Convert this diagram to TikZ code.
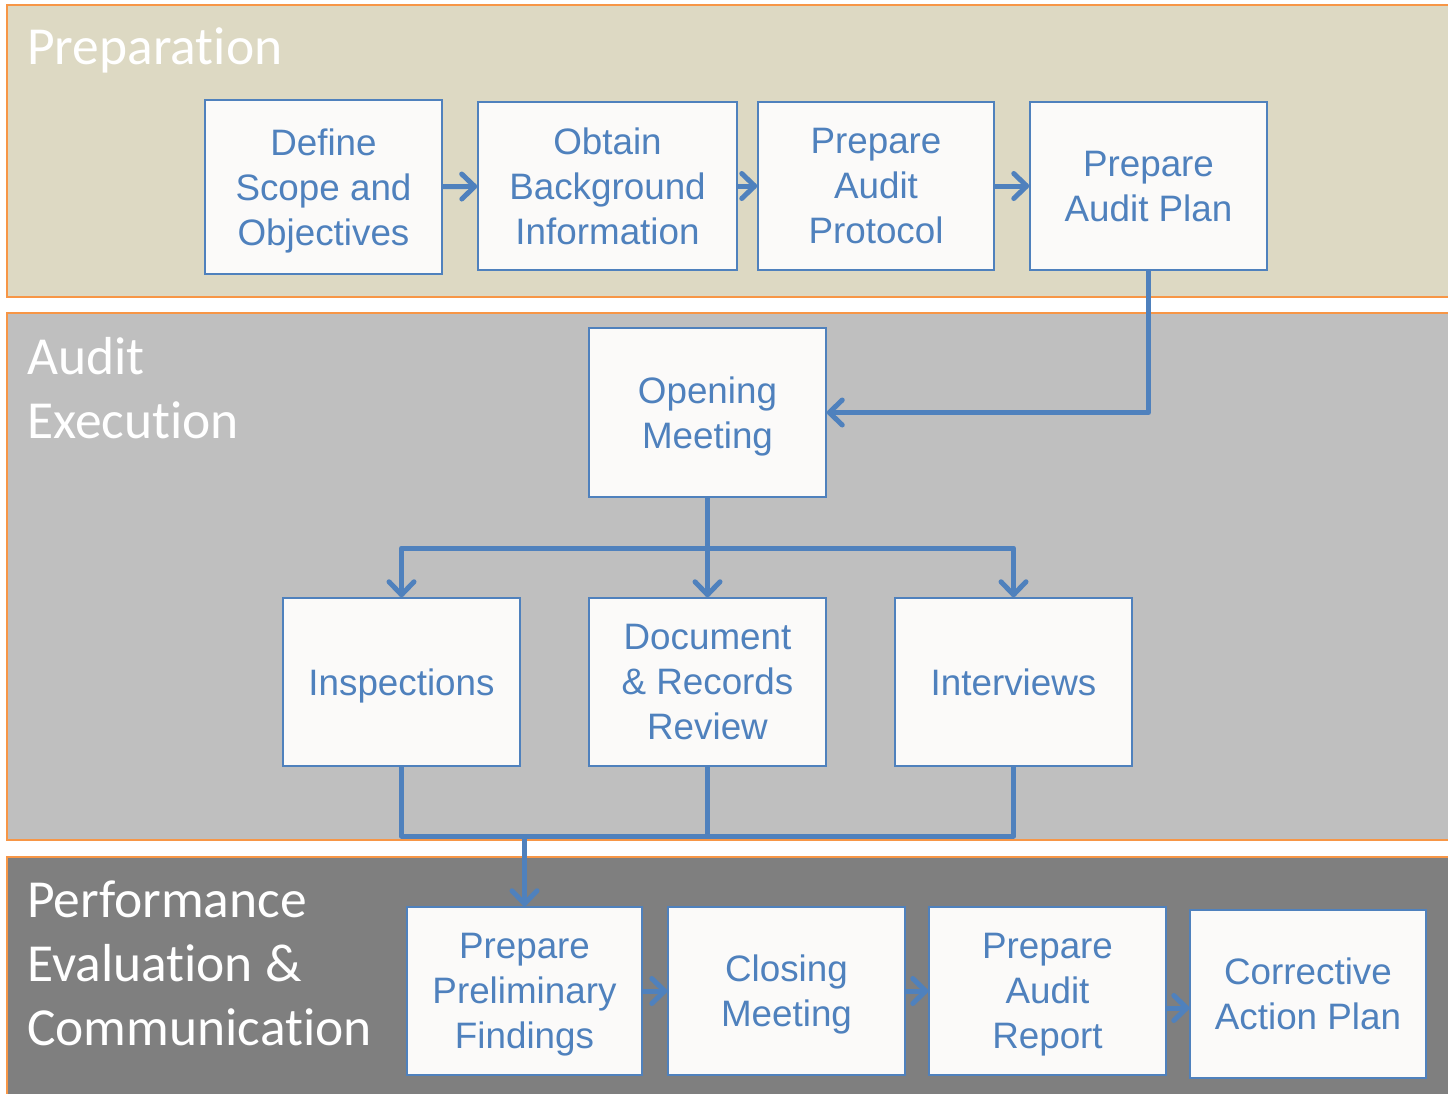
\documentclass[tikz,border=0pt]{standalone}
\usepackage{fontspec}
\setmainfont{Liberation Sans}
\newfontfamily\bandfont[Ligatures=NoCommon]{Carlito}
\usetikzlibrary{arrows.meta}
\definecolor{prepbg}{HTML}{DDD9C3}
\definecolor{execbg}{HTML}{BFBFBF}
\definecolor{evalbg}{HTML}{7F7F7F}
\definecolor{edge}{HTML}{F79646}
\definecolor{blu}{HTML}{4F81BD}
\definecolor{boxbg}{HTML}{FBFAF9}
\tikzstyle{band} = [draw=edge, line width=2pt]
\tikzstyle{box} = [draw=blu, fill=boxbg, line width=1.5pt, inner sep=0pt, minimum width=237pt, minimum height=168pt, align=center, text depth=0pt, text=blu, font=\fontsize{36.8}{45}\selectfont]
\tikzstyle{title} = [anchor=base west, inner sep=0pt, align=left, text=white, font=\bandfont\fontsize{53.5}{64}\selectfont]
\tikzstyle{l} = [draw=blu, line width=5pt, line join=round]
\tikzstyle{arr} = [l, -{Straight Barb[length=13pt, width=25pt, round]}]

\begin{document}
\begin{tikzpicture}[x=1pt, y=-1pt]
    \clip (0,0) rectangle (1448,1093);
    \fill[white] (0,0) rectangle (1448,1093);

    % the three bands
    \draw[band, fill=prepbg] (7,5) rectangle (1470,297);
    \draw[band, fill=execbg] (7,313) rectangle (1470,840);
    \draw[band, fill=evalbg] (7,857) rectangle (1470,1110);
    % base of a title is its last line
    \node[title] (tprep) at (27,64) {Preparation};
    \node[title] (texec) at (27,438) {Audit\\Execution};
    \node[title] (teval) at (27,1045) {Performance\\Evaluation \&\\Communication};

    % preparation
    \node[box, minimum height=174pt] (def) at (323.5,187) {Define\\Scope and\\Objectives};
    \node[box, minimum width=259pt] (obt) at (607.5,186) {Obtain\\Background\\Information};
    \node[box, minimum width=236pt] (pro) at (876,186) {Prepare\\Audit\\Protocol};
    \node[box] (pla) at (1148.5,186) {Prepare\\Audit Plan};
    \foreach \f/\t in {def/obt, obt/pro, pro/pla}
    \draw[arr] (\f) -- (\t);

    % execution
    \node[box, minimum height=169pt] (ope) at (707.5,412.5) {Opening\\Meeting};
    \node[box] (ins) at (401.5,682) {Inspections};
    \node[box] (doc) at (707.5,682) {Document\\\& Records\\Review};
    \node[box] (int) at (1013.5,682) {Interviews};
    \draw[arr] (pla.south) |- (ope.east);
    \coordinate (fork) at (707.5,548);
    \draw[l] (ope.south) -- (fork);
    \foreach \n in {ins, doc, int}
    \draw[arr] (fork) -| (\n.north);

    % evaluation
    \node[box, minimum width=235pt] (pre) at (524.5,991) {Prepare\\Preliminary\\Findings};
    \node[box] (clo) at (786.5,991) {Closing\\Meeting};
    \node[box] (rep) at (1047.5,991) {Prepare\\Audit\\Report};
    \node[box, minimum width=236pt] (cor) at (1308,994) {Corrective\\Action Plan};
    \coordinate (join) at (524.5,836);
    \foreach \n in {ins, doc, int}
    \draw[l] (\n.south) |- (join);
    \draw[arr] (join) -- (pre.north);
    \foreach \f/\t in {pre/clo, clo/rep}
    \draw[arr] (\f) -- (\t);
    \draw[arr] ([yshift=-17pt]rep.east) -- ([yshift=-17pt]rep.east -| cor.west);
\end{tikzpicture}
\end{document}
